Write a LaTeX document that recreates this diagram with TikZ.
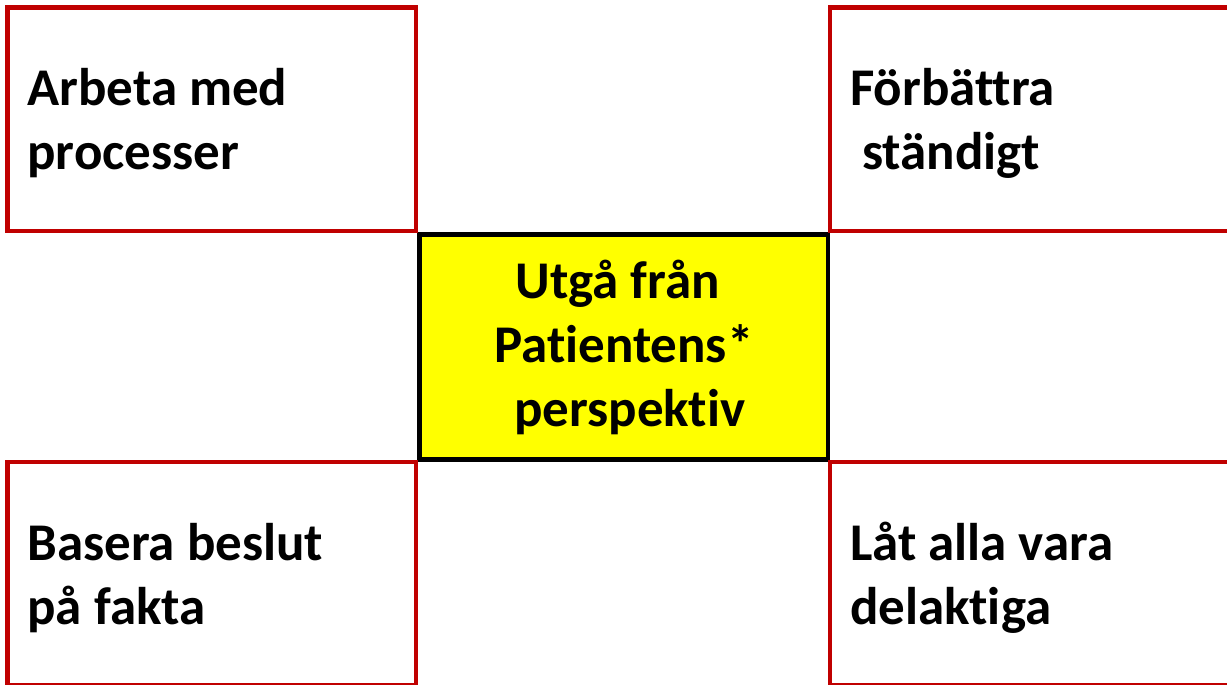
\documentclass[tikz,border=0pt]{standalone}
\usepackage{fontspec}
\setmainfont{Carlito}[Ligatures=NoCommon]
\usepackage{xcolor}
\definecolor{boxred}{RGB}{192,0,0}
\definecolor{boxyellow}{RGB}{255,255,0}
\usetikzlibrary{positioning}
\tikzset{
PrincipleBox/.style={
draw=boxred,
line width=4.5pt,
minimum width=408.5pt,
minimum height=223.5pt,
text width=368.5pt,
inner xsep=20pt,
text height=52pt,
text depth=78.5pt,
align=flush left,
font=\fontsize{53}{64}\selectfont\bfseries},
CoreBox/.style={
draw=black,
fill=boxyellow,
line width=4.5pt,
minimum width=408.5pt,
minimum height=225pt,
align=center,
font=\fontsize{53}{64}\selectfont\bfseries}}

\begin{document}
\begin{tikzpicture}[x=1pt, y=-1pt]
    \useasboundingbox (0,0) rectangle (1227,685);
    \clip (0,0) rectangle (1227,685);
    \node [CoreBox] (core) at (623.75,347) {Utgå från\hspace*{.23em}\\Patientens*\\\hspace*{.23em}perspektiv};
    \node [PrincipleBox] (process) at (211.75,119.25) {Arbeta med\\processer};
    \node [PrincipleBox] (improve) at (1034.25,119.25) {Förbättra\\\hspace*{.23em}ständigt};
    \node [PrincipleBox] (facts) at (211.75,573.75) {Basera beslut\\på fakta};
    \node [PrincipleBox] (involve) at (1034.25,573.75) {Låt alla vara\\delaktiga};
\end{tikzpicture}
\end{document}
